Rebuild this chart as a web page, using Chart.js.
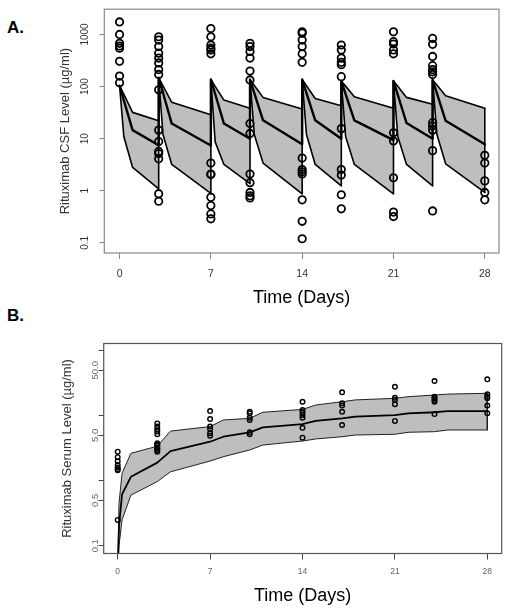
<!DOCTYPE html>
<html>
<head>
<meta charset="utf-8">
<script src="https://cdn.jsdelivr.net/npm/chart.js@4.4.1/dist/chart.umd.min.js"></script>
<style>
  body { margin: 0; background: #fff; width: 508px; height: 611px; position: relative; overflow: hidden;
         font-family: 'Liberation Sans', Arial, sans-serif; }
  canvas { position: absolute; left: 0; }
  #csf { top: 0; }
  #serum { top: 300px; }
  .panel { position: absolute; left: 7px; font-weight: bold; font-size: 17px; line-height: 17px; color: #000; }
</style>
</head>
<body>
<div class="panel" style="top:19px">A.</div>
<div class="panel" style="top:307px">B.</div>
<canvas id="csf" width="508" height="312"></canvas>
<canvas id="serum" width="508" height="311"></canvas>
<script>
// Panel A - CSF level, prediction band (upper / median / lower)
const csfTime = [0, 0.33, 1, 3, 3, 3.33, 4, 7, 7, 7.33, 8, 10, 10, 10.33, 11, 14,
                 14, 14.33, 15, 17, 17, 17.33, 18, 21, 21, 21.33, 22, 24, 24, 24.33, 25, 28];
const csfUpper = [104, 71, 32, 22, 148, 103, 50, 28.7, 137, 101, 55, 38.5, 137, 105, 62, 37,
                  137, 104, 59, 43, 128, 102, 64, 38.5, 128, 101, 62, 46, 134, 107, 67, 38.5];
const csfMedian = [104, 54, 14.6, 7.5, 148, 76, 19.5, 7.4, 137, 72, 19.5, 10, 137, 75, 22.5, 7.8,
                   137, 75, 22.5, 10, 128, 72, 22.5, 9.4, 128, 69, 20, 10, 134, 74, 22, 7.8];
const csfLower = [104, 10.9, 2.8, 1.09, 148, 12, 3.2, 0.89, 137, 8.7, 3.2, 1.37, 137, 12, 3.4, 0.87,
                  137, 12, 3.2, 1.24, 128, 11, 3.2, 0.87, 128, 11, 3.2, 1.24, 134, 12, 3.3, 0.93];

// observed CSF samples per sampling day
const csfSampleDays = [0, 3, 7, 10, 14, 17, 21, 24, 28];
const csfSamples = [
    [1740, 1000, 676, 600, 545, 305, 159, 119],
    [905, 781, 586, 438, 353, 284, 212, 171, 87, 14.6, 8.8, 5.7, 5.2, 4.1, 0.88, 0.63],
    [1298, 905, 628, 545, 506, 425, 3.4, 2.1, 2.05, 0.75, 0.52, 0.36, 0.29],
    [676, 586, 472, 353, 198, 134, 19.5, 12.6, 2.1, 1.43, 0.93, 0.8, 0.73],
    [1125, 1060, 781, 586, 425, 292, 4.25, 2.56, 2.31, 2.1, 0.67, 0.26, 0.12],
    [628, 506, 353, 292, 263, 155, 15.6, 2.56, 2.0, 0.84, 0.45],
    [1125, 728, 656, 506, 425, 13, 9.05, 1.78, 0.39, 0.32],
    [840, 647, 379, 252, 212, 192, 171, 20.3, 17.6, 14.6, 5.9, 0.41],
    [4.8, 3.4, 1.55, 0.93, 0.67]
];
const csfTicks = [0.1, 1, 10, 100, 1000];
const csfTickLabels = ['0.1', '1', '10', '100', '1000'];

// Panel B - serum level
const serumTime = [0, 0.1, 0.33, 1, 3, 4, 7, 8, 10, 11, 14, 15, 17, 18, 21, 22, 24, 25, 28];
const serumUpper = [0.04, 0.45, 1.3, 2.64, 3.4, 5.8, 6.8, 8.6, 9.1, 11.3, 12.5, 14.6, 16.4, 17.5, 18.5, 19.6, 20.8, 21.5, 22.1];
const serumMedian = [0.04, 0.2, 0.62, 1.15, 1.9, 2.86, 3.98, 4.75, 5.56, 6.6, 7.4, 8.3, 9.1, 9.7, 10.2, 10.9, 11.3, 11.8, 11.8];
const serumLower = [0.04, 0.1, 0.25, 0.6, 0.97, 1.37, 2.01, 2.34, 2.97, 3.54, 4.08, 4.39, 4.75, 5.05, 5.18, 5.56, 5.68, 6.03, 6.03];

const serumSampleDays = [0, 3, 7, 10, 14, 17, 21, 24, 28];
const serumSamples = [
    [2.8, 2.3, 2.0, 1.75, 1.6, 1.5, 1.45, 0.25],
    [7.6, 6.8, 6.2, 5.7, 5.2, 3.76, 3.6, 3.45, 3.22, 3.1, 2.97, 2.79],
    [11.8, 8.9, 6.8, 6.2, 5.35, 4.92],
    [11.5, 10.9, 9.3, 8.6, 5.56, 5.2],
    [16.4, 12.2, 11.3, 10.3, 9.3, 6.5, 4.6],
    [22.9, 15.5, 14.3, 11.5, 7.2],
    [27.9, 18.9, 17.5, 15, 8.3],
    [34.2, 19.6, 18.5, 17.5, 16.4, 10.6],
    [36.3, 21.3, 19.6, 18.5, 14.3, 10.9]
];
const serumTicks = [0.1, 0.5, 1, 5, 10, 50, 100];
const serumTickLabels = ['0.1', '0.5', '', '5.0', '', '50.0', ''];

const dayTicks = [0, 7, 14, 21, 28];
const dayTickLabels = ['0', '7', '14', '21', '28'];

Chart.defaults.font.family = "'Liberation Sans', Arial, sans-serif";

function xy(xs, ys) {
    return xs.map((x, i) => ({ x: x, y: ys[i] }));
}

function samplePoints(days, samples) {
    return days.flatMap((d, i) => samples[i].map(v => ({ x: d, y: v })));
}

function setTicks(values) {
    return scale => { scale.ticks = values.map(v => ({ value: v })); };
}

// box round the plotting region, like R's box()
const framePlugin = {
    id: 'frame',
    afterDraw(chart, args, opts) {
        const { ctx, chartArea: a } = chart;
        ctx.save();
        ctx.strokeStyle = opts.color;
        ctx.lineWidth = opts.width;
        ctx.strokeRect(a.left, a.top, a.right - a.left, a.bottom - a.top);
        ctx.restore();
    }
};

function bandDatasets(time, upper, median, lower, pts, style) {
    const n = time.length - 1;
    const line = { pointRadius: 0, borderJoinStyle: 'round', borderCapStyle: 'round', fill: false };
    return [
        {
            data: pts, showLine: false, pointRadius: style.r, pointBorderWidth: style.pw,
            pointBorderColor: '#000', pointBackgroundColor: 'rgba(0,0,0,0)'
        },
        Object.assign({ data: xy(time, median), borderColor: '#000', borderWidth: style.mw }, line),
        Object.assign({}, line, {
            data: xy(time, upper), borderColor: style.bc, borderWidth: style.bw,
            fill: '+1', backgroundColor: '#bebebe'
        }),
        Object.assign({ data: xy(time, lower), borderColor: style.bc, borderWidth: style.bw }, line),
        Object.assign({
            data: [{ x: time[n], y: upper[n] }, { x: time[n], y: lower[n] }],
            borderColor: style.bc, borderWidth: style.bw
        }, line)
    ];
}

function makeChart(id, p) {
    return new Chart(document.getElementById(id), {
        type: 'line',
        data: { datasets: p.datasets },
        plugins: [framePlugin],
        options: {
            responsive: false,
            animation: false,
            layout: { padding: p.padding },
            scales: {
                x: {
                    type: 'linear', min: p.xmin, max: p.xmax,
                    afterBuildTicks: setTicks(dayTicks),
                    afterFit: s => { s.height = p.xh; },
                    grid: { drawOnChartArea: false, tickLength: 6, color: p.tickColor },
                    border: { display: false },
                    ticks: {
                        callback: (v, i) => dayTickLabels[i], autoSkip: false, maxRotation: 0,
                        font: { size: p.xFont }, color: p.labelColor, padding: p.xPad
                    },
                    title: {
                        display: true, text: 'Time (Days)', color: '#000',
                        font: { size: 18 }, padding: { top: 0, bottom: p.xTitlePad }
                    }
                },
                y: {
                    type: 'logarithmic', min: p.ymin, max: p.ymax,
                    afterBuildTicks: setTicks(p.yTicks),
                    afterFit: s => { s.width = p.yw; },
                    grid: { drawOnChartArea: false, tickLength: 5, color: p.tickColor },
                    border: { display: false },
                    ticks: {
                        callback: (v, i) => p.yLabels[i], autoSkip: false,
                        minRotation: 90, maxRotation: 90, crossAlign: 'center',
                        font: { size: p.yFont }, color: p.labelColor, padding: p.yPad
                    },
                    title: {
                        display: true, text: p.yTitle, color: '#333',
                        font: { size: 13 }, padding: { top: p.yTitlePad, bottom: 0 }
                    }
                }
            },
            plugins: {
                legend: { display: false },
                tooltip: { enabled: false },
                filler: { drawTime: 'beforeDatasetsDraw' },
                frame: { color: p.frameColor, width: 1.2 }
            }
        }
    });
}

makeChart('csf', {
    datasets: bandDatasets(csfTime, csfUpper, csfMedian, csfLower,
        samplePoints(csfSampleDays, csfSamples), { r: 3.7, pw: 1.8, mw: 2.4, bw: 1.6, bc: '#000' }),
    padding: { top: 5, right: 9, bottom: 0, left: 0 },
    xmin: -1.17, xmax: 29.09, xh: 59, xFont: 10.5, xPad: 8.7, xTitlePad: 3.2,
    ymin: 0.064, ymax: 3055, yw: 104.3, yTicks: csfTicks, yLabels: csfTickLabels,
    yFont: 10, yPad: 3.2, yTitle: 'Rituximab CSF Level (µg/ml)', yTitlePad: 57.2,
    tickColor: '#8a8a8a', labelColor: '#333', frameColor: '#8a8a8a'
});

makeChart('serum', {
    datasets: bandDatasets(serumTime, serumUpper, serumMedian, serumLower,
        samplePoints(serumSampleDays, serumSamples), { r: 2.3, pw: 1.4, mw: 1.8, bw: 1, bc: '#222' }),
    padding: { top: 43.5, right: 6.3, bottom: 0, left: 0 },
    xmin: -1.06, xmax: 29.09, xh: 57.5, xFont: 8.5, xPad: 6.7, xTitlePad: 4.2,
    ymin: 0.076, ymax: 129, yw: 103.7, yTicks: serumTicks, yLabels: serumTickLabels,
    yFont: 9.5, yPad: -6, yTitle: 'Rituximab Serum Level (µg/ml)', yTitlePad: 59.2,
    tickColor: '#444', labelColor: '#666', frameColor: '#555'
});
</script>
</body>
</html>
